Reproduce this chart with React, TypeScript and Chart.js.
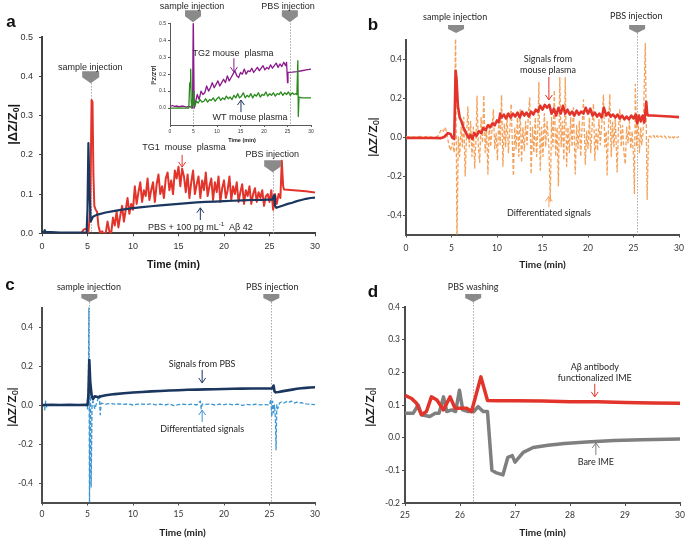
import React, { useEffect, useRef } from 'react';
import { Chart, registerables } from 'chart.js';

Chart.register(...registerables);

type Pt = [number, number];

// ---------------- data ----------------
// panel a
const aXTicks = [0, 5, 10, 15, 20, 25, 30];
const aYTicks = [0, 0.1, 0.2, 0.3, 0.4, 0.5];
const aNavy: Pt[] = [[0,0.003],[0.2,0.003],[0.3,0.008],[0.4,0.003],[1,0.003],[2,0.002],[3,0.002],[4,0.002],[4.6,0.002],[4.9,0],[5,0.06],[5.1,0.23],[5.2,0.12],[5.35,0.03],[5.6,0.042],[6,0.047],[7,0.053],[8,0.057],[9,0.061],[10,0.064],[11,0.067],[12,0.069],[13,0.071],[14,0.073],[15,0.075],[16,0.077],[17,0.079],[18,0.08],[19,0.081],[20,0.082],[21,0.083],[22,0.084],[23,0.085],[24,0.085],[25,0.086],[25.3,0.086],[25.5,0.097],[25.6,0.07],[25.75,0.065],[26,0.067],[26.5,0.071],[27,0.075],[27.5,0.078],[28,0.082],[28.5,0.085],[29,0.088],[29.5,0.09],[30,0.091]];
const aRed: Pt[] = [[4.3,0],[4.6,0.01],[4.9,0.012],[5.1,0.002],[5.3,0.06],[5.45,0.34],[5.55,0.335],[5.65,0.15],[5.75,0.07],[5.9,0.06],[6.05,0.055],[6.2,0.02],[6.4,0],[6.6,0.005],[6.8,0],
[7,0],[7.2,0.03],[7.4,0.005],[7.6,0],[7.8,0.04],[8,0.02],[8.2,0.055],[8.4,0.015],[8.6,0.045],[8.8,0.07],[9,0.03],[9.2,0.06],[9.4,0.09],[9.6,0.05],[9.8,0.075],[10,0.06],[10.2,0.12],[10.4,0.075],[10.6,0.105],[10.8,0.13],[11,0.08],[11.2,0.11],[11.4,0.095],[11.6,0.14],[11.8,0.085],[12,0.11],[12.2,0.13],[12.4,0.08],[12.6,0.125],[12.8,0.15],[13,0.1],[13.2,0.12],[13.4,0.09],[13.6,0.14],[13.8,0.155],[14,0.11],[14.2,0.135],[14.4,0.1],[14.6,0.16],[14.8,0.14],[15,0.17],[15.2,0.12],[15.4,0.165],[15.6,0.145],[15.8,0.105],[16,0.15],[16.2,0.09],[16.4,0.13],[16.6,0.16],[16.8,0.1],[17,0.125],[17.2,0.145],[17.4,0.09],[17.6,0.135],[17.8,0.11],[18,0.155],[18.2,0.095],[18.4,0.12],[18.6,0.14],[18.8,0.085],[19,0.13],[19.2,0.105],[19.4,0.145],[19.6,0.08],[19.8,0.115],[20,0.135],[20.2,0.09],[20.4,0.11],[20.6,0.145],[20.8,0.085],[21,0.12],[21.2,0.1],[21.4,0.13],[21.6,0.08],[21.8,0.105],[22,0.125],[22.2,0.075],[22.4,0.11],[22.6,0.095],[22.8,0.12],[23,0.075],[23.2,0.1],[23.4,0.115],[23.6,0.08],[23.8,0.105],[24,0.09],[24.2,0.11],[24.4,0.07],[24.6,0.095],[24.8,0.1],[25,0.08],[25.2,0.11],[25.4,0.06],[25.6,0.1],[25.8,0.075],[26,0.1],[26.2,0.09],[26.35,0.185],[26.5,0.12],[26.6,0.112],[27,0.111],[28,0.109],[29,0.107],[30,0.104]];

// inset of panel a
const insXTicks = [0, 5, 10, 15, 20, 25, 30];
const insYTicks = [0, 0.1, 0.2, 0.3, 0.4, 0.5];
const insPurple: Pt[] = [[0,0.01],[0.5,0.015],[1,0.01],[1.5,0.012],[2,0.008],[2.5,0.012],[3,0.01],[3.5,0.006],[4,0.01],[4.5,0.005],[4.8,0],[4.95,0.55],[5.05,0.55],[5.15,0],[5.4,0.03],[5.8,0.08],[6.2,0.05],[6.6,0.1],[7,0.08],[7.4,0.09],[7.8,0.13],[8.2,0.1],[8.6,0.12],[9,0.15],[9.4,0.12],[9.8,0.14],[10.2,0.16],[10.6,0.13],[11,0.15],[11.4,0.17],[11.8,0.15],[12.2,0.19],[12.6,0.16],[13,0.18],[13.4,0.2],[13.8,0.22],[14.2,0.19],[14.6,0.18],[15,0.21],[15.4,0.2],[15.8,0.23],[16.2,0.2],[16.6,0.22],[17,0.215],[17.4,0.235],[17.8,0.21],[18.2,0.225],[18.6,0.24],[19,0.22],[19.4,0.235],[19.8,0.25],[20.2,0.225],[20.6,0.24],[21,0.23],[21.4,0.255],[21.8,0.235],[22.2,0.25],[22.6,0.265],[23,0.24],[23.4,0.26],[23.8,0.245],[24.2,0.27],[24.6,0.25],[24.8,0.27],[25,0.15],[25.1,0.21],[26,0.212],[27,0.215],[28,0.22],[29,0.225],[30,0.23]];
const insGreen: Pt[] = [[0,0],[1,0],[2,0.001],[3,0],[4,0],[4.2,0.15],[4.3,0.12],[4.4,0.23],[4.5,0.05],[4.6,0],[4.8,0.02],[5,0.1],[5.1,0.03],[5.3,0.01],[5.6,0.04],[6,0.03],[6.4,0.05],[6.8,0.035],[7.2,0.04],[7.6,0.055],[8,0.035],[8.4,0.05],[8.8,0.045],[9.2,0.06],[9.6,0.04],[10,0.055],[10.4,0.065],[10.8,0.045],[11.2,0.06],[11.6,0.05],[12,0.07],[12.4,0.055],[12.8,0.065],[13.2,0.05],[13.6,0.075],[14,0.06],[14.4,0.085],[14.8,0.06],[15.2,0.07],[15.6,0.09],[16,0.06],[16.4,0.075],[16.8,0.065],[17.2,0.085],[17.6,0.06],[18,0.08],[18.4,0.07],[18.8,0.09],[19.2,0.065],[19.6,0.08],[20,0.075],[20.4,0.095],[20.8,0.07],[21.2,0.085],[21.6,0.075],[22,0.09],[22.4,0.07],[22.8,0.085],[23.2,0.08],[23.6,0.095],[24,0.075],[24.4,0.09],[24.8,0.08],[25.2,0.095],[25.6,0.075],[26,0.09],[26.4,0.08],[26.8,0.085],[27,0.08],[27.2,0.28],[27.3,-0.05],[27.45,0.065],[28,0.06],[29,0.06],[30,0.06]];

// panel b
const bXTicks = [0, 5, 10, 15, 20, 25, 30];
const bYTicks = [-0.4, -0.2, 0, 0.2, 0.4];
const bRed: Pt[] = [[0,-0.005],[1,-0.004],[2,-0.005],[3,-0.005],[3.8,-0.006],[4.2,0],[4.6,0.02],[4.9,0.015],[5.1,-0.005],[5.3,-0.01],[5.45,0.34],[5.55,0.3],[5.7,0.16],[5.9,0.1],[6.1,0.08],[6.3,0.05],[6.5,0.03],[6.7,0.01],[6.9,-0.005],[7.1,0.01],[7.3,-0.01],[7.5,0.02],[7.75,0.005],[8,0.03],[8.25,0.02],[8.5,0.045],[8.75,0.035],[9,0.06],[9.25,0.05],[9.5,0.07],[9.75,0.06],[10,0.085],[10.2,0.075],[10.35,0.12],[10.5,0.1],[10.75,0.115],[11,0.095],[11.25,0.12],[11.5,0.1],[11.75,0.12],[12,0.105],[12.25,0.125],[12.5,0.1],[12.75,0.13],[13,0.11],[13.25,0.125],[13.5,0.105],[13.75,0.13],[14,0.115],[14.25,0.14],[14.5,0.13],[14.75,0.16],[15,0.14],[15.25,0.165],[15.5,0.15],[15.75,0.165],[16,0.12],[16.25,0.145],[16.5,0.11],[16.75,0.15],[17,0.12],[17.25,0.16],[17.5,0.12],[17.75,0.14],[18,0.115],[18.25,0.13],[18.5,0.11],[18.75,0.135],[19,0.115],[19.25,0.13],[19.5,0.12],[19.75,0.15],[20,0.12],[20.25,0.145],[20.5,0.11],[20.75,0.125],[21,0.105],[21.25,0.12],[21.5,0.1],[21.75,0.15],[22,0.11],[22.25,0.125],[22.5,0.105],[22.75,0.115],[23,0.1],[23.25,0.115],[23.5,0.095],[23.75,0.11],[24,0.09],[24.25,0.105],[24.5,0.09],[24.75,0.11],[25,0.095],[25.25,0.115],[25.4,0.07],[25.6,0.11],[25.8,0.08],[26,0.11],[26.2,0.075],[26.4,0.18],[26.5,0.12],[26.6,0.11],[27,0.11],[28,0.108],[29,0.105],[30,0.102]];
const bDiff: Pt[] = [[0,0],[0.5,0.002],[1,-0.003],[1.5,0.003],[2,0],[2.5,0.005],[3,-0.003],[3.5,0.004],[3.9,0.04],[4.1,0.03],[4.3,0.05],[4.5,0.02],[4.7,-0.04],[4.9,-0.07],[5.1,-0.03],[5.3,-0.08],[5.45,0.55],[5.6,-0.55],[5.75,0],[5.9,-0.1],[6.05,0.05],[6.2,-0.05],[6.35,0.1],[6.5,-0.2],[6.65,0],[6.8,0.155],[6.95,-0.05],[7.1,0.08],[7.25,-0.1],[7.4,0.05],[7.55,-0.16],[7.7,0],[7.8,0.21],[7.95,-0.05],[8.1,-0.13],[8.25,0.1],[8.4,-0.03],[8.55,0.215],[8.7,-0.08],[8.85,0.05],[9,-0.19],[9.15,0.07],[9.3,-0.05],[9.45,0.03],[9.6,0.14],[9.75,-0.06],[9.9,0.02],[10.05,-0.12],[10.2,0.1],[10.35,-0.04],[10.5,0.215],[10.65,-0.15],[10.8,0.07],[10.95,-0.05],[11.1,0.12],[11.25,-0.08],[11.4,0.03],[11.55,0.17],[11.7,-0.05],[11.8,-0.2],[11.95,0.05],[12.1,-0.06],[12.25,0.1],[12.4,-0.1],[12.55,0.14],[12.7,-0.13],[12.85,0.05],[13,-0.07],[13.15,0.08],[13.3,-0.04],[13.45,0.12],[13.6,0.2],[13.75,-0.19],[13.9,0.05],[14.05,-0.08],[14.2,0.1],[14.35,-0.1],[14.5,0.06],[14.6,0.28],[14.75,-0.17],[14.9,0.05],[15.05,-0.1],[15.2,0.12],[15.35,-0.05],[15.5,0.08],[15.7,-0.05],[15.85,-0.33],[16,0.1],[16.15,-0.05],[16.3,0.24],[16.45,-0.1],[16.6,0.05],[16.75,-0.25],[16.9,0.305],[17.05,-0.05],[17.2,0.08],[17.35,-0.12],[17.5,0.305],[17.65,-0.15],[17.8,0.05],[17.95,-0.08],[18.1,0.1],[18.25,-0.05],[18.4,0.15],[18.6,-0.19],[18.75,0.06],[18.9,-0.06],[19.05,0.08],[19.2,-0.1],[19.35,0.05],[19.5,0.19],[19.7,-0.14],[19.85,0.03],[20,-0.06],[20.15,0.1],[20.3,-0.08],[20.45,0.05],[20.6,0.17],[20.75,-0.12],[20.9,0.04],[21.05,-0.07],[21.2,0.09],[21.35,-0.04],[21.5,0.06],[21.7,0.215],[21.85,-0.05],[22,0.03],[22.1,-0.195],[22.25,0.05],[22.4,0.22],[22.55,-0.1],[22.7,0.08],[22.85,-0.05],[23,0.1],[23.2,-0.18],[23.35,0.05],[23.5,0.14],[23.65,-0.05],[23.8,0.06],[23.95,-0.08],[24.1,-0.14],[24.25,0.05],[24.4,-0.03],[24.55,0.08],[24.7,-0.06],[24.85,0.03],[25,-0.1],[25.1,-0.29],[25.2,0.27],[25.35,-0.05],[25.5,0.1],[25.65,-0.08],[25.8,0.05],[25.9,-0.04],[26.05,0.02],[26.3,0.48],[26.5,-0.32],[26.65,0],[26.8,0.005],[27,-0.005],[27.2,0.008],[27.4,-0.006],[27.6,0.007],[27.8,-0.005],[28,0.006],[28.2,-0.004],[28.4,0.005],[28.6,-0.006],[28.8,0.004],[29,-0.004],[29.2,0.006],[29.4,-0.005],[29.6,0.005],[29.8,-0.003],[30,0.002]];

// panel c
const cXTicks = [0, 5, 10, 15, 20, 25, 30];
const cYTicks = [-0.4, -0.2, 0, 0.2, 0.4];
const cNavy: Pt[] = [[0,0],[0.3,0],[1,0.001],[2,0],[3,0.001],[4,0],[4.8,0.001],[5,0],[5.1,0.05],[5.2,0.23],[5.3,0.12],[5.45,0.05],[5.6,0.03],[5.8,0.045],[6.2,0.04],[6.5,0.045],[7,0.05],[8,0.056],[9,0.06],[10,0.064],[11,0.067],[12,0.07],[13,0.072],[14,0.074],[15,0.076],[16,0.078],[17,0.079],[18,0.08],[19,0.081],[20,0.082],[21,0.083],[22,0.084],[23,0.085],[24,0.085],[25,0.085],[25.3,0.085],[25.45,0.1],[25.55,0.07],[25.7,0.065],[26,0.067],[26.5,0.071],[27,0.075],[27.5,0.079],[28,0.083],[28.5,0.086],[29,0.088],[29.5,0.09],[30,0.091]];
const cDiff: Pt[] = [[0,0],[0.2,0],[0.3,-0.025],[0.4,0.02],[0.5,-0.01],[0.7,0],[1,0.002],[1.5,-0.002],[2,0.001],[2.5,-0.001],[3,0.002],[3.5,-0.001],[4,0.001],[4.5,0],[4.9,0],[5,-0.02],[5.1,0.1],[5.15,0.52],[5.22,-0.52],[5.3,0.2],[5.4,-0.42],[5.5,0],[5.6,0.02],[5.8,-0.02],[6,0.01],[6.3,0.05],[6.4,-0.05],[6.5,0.01],[7,0.005],[7.5,0.008],[8,0.004],[8.5,0.006],[9,0.003],[9.5,0.006],[10,0],[10.5,0.004],[11,0.005],[11.5,0.003],[12,0.006],[12.5,0.001],[13,0.004],[13.5,0],[14,0.005],[14.5,-0.003],[15,0.002],[15.5,0.004],[16,0.001],[16.5,0.005],[17,0],[17.4,0.02],[17.5,-0.02],[17.6,0.005],[18,0.003],[18.5,0.005],[19,0],[19.5,0.004],[20,0.002],[20.5,0.005],[21,0.001],[21.5,0.004],[22,-0.002],[22.5,0.003],[23,0],[23.5,0.004],[24,0.001],[24.5,0.002],[25,0],[25.15,0.03],[25.25,-0.06],[25.35,0.02],[25.45,-0.04],[25.55,0],[25.65,-0.07],[25.72,-0.23],[25.8,0],[25.9,-0.02],[26.1,0.01],[26.3,0.015],[26.6,0.01],[27,0.02],[27.2,0.015],[27.4,0.02],[27.7,0.01],[28,0.015],[28.3,0.01],[28.5,0.012],[28.8,0.008],[29,0.006],[29.5,0.004],[30,0.002]];

// panel d
const dXTicks = [25, 26, 27, 28, 29, 30];
const dYTicks = [-0.2, -0.1, 0, 0.1, 0.2, 0.3, 0.4];
const dRed: Pt[] = [[25,0.13],[25.12,0.12],[25.21,0.105],[25.3,0.07],[25.39,0.08],[25.48,0.125],[25.58,0.115],[25.7,0.085],[25.82,0.125],[25.91,0.09],[26,0.09],[26.12,0.09],[26.21,0.08],[26.38,0.186],[26.5,0.114],[26.7,0.113],[27,0.113],[27.5,0.112],[28,0.11],[28.5,0.11],[29,0.108],[29.5,0.106],[30,0.105]];
const dGray: Pt[] = [[25,0.075],[25.15,0.075],[25.24,0.1],[25.3,0.07],[25.45,0.065],[25.55,0.075],[25.62,0.075],[25.7,0.125],[25.76,0.08],[25.85,0.085],[25.92,0.08],[25.99,0.145],[26.05,0.085],[26.15,0.08],[26.25,0.08],[26.33,0.095],[26.42,0.08],[26.5,0.08],[26.58,-0.1],[26.65,-0.107],[26.78,-0.114],[26.87,-0.06],[26.95,-0.055],[27,-0.075],[27.15,-0.045],[27.33,-0.03],[27.6,-0.023],[27.9,-0.018],[28.3,-0.013],[28.8,-0.009],[29.3,-0.006],[30,-0.004]];

// ---------------- style ----------------
const RED = '#e2342b';
const NAVY = '#1b365f';
const PURPLE = '#8a1a8c';
const GREEN = '#2a8a1e';
const ORANGE = '#f4a25b';
const LBLUE = '#3b95d3';
const GRAY = '#7f7f7f';
const TXT = '#262626';
const ARIAL = '"Liberation Sans", Arial, sans-serif';
const CAL = 'Lato, "Open Sans", sans-serif';
const yTitleParts = [{ t: '|ΔZ/Z' }, { t: '0', sub: true }, { t: '|' }];

type Part = { t: string; sub?: boolean; sup?: boolean };

function drawParts(ctx: any, parts: Part[], cx: number, cy: number, size: number, family: string, weight: string, color: string) {
  const small = size * 0.68;
  const widths: number[] = [];
  let total = 0;
  parts.forEach((p) => {
    ctx.font = `${weight} ${p.sub || p.sup ? small : size}px ${family}`;
    const w = ctx.measureText(p.t).width;
    widths.push(w);
    total += w;
  });
  let x = cx - total / 2;
  ctx.fillStyle = color;
  ctx.textBaseline = 'middle';
  ctx.textAlign = 'left';
  parts.forEach((p, i) => {
    ctx.font = `${weight} ${p.sub || p.sup ? small : size}px ${family}`;
    const dy = p.sub ? size * 0.3 : p.sup ? -size * 0.35 : 0;
    ctx.fillText(p.t, x, cy + dy);
    x += widths[i];
  });
}

function makeDecor(d: any) {
  return {
    id: 'decor',
    beforeDatasetsDraw(chart: any) {
      const { ctx, chartArea, scales } = chart;
      ctx.save();
      (d.vlines || []).forEach((v: any) => {
        const px = Math.round(scales.x.getPixelForValue(v.x)) + 0.5;
        ctx.strokeStyle = '#a8a8a8';
        ctx.lineWidth = 1;
        ctx.setLineDash([1.5, 1.5]);
        ctx.beginPath();
        ctx.moveTo(px, scales.y.getPixelForValue(v.from));
        ctx.lineTo(px, chartArea.bottom);
        ctx.stroke();
      });
      ctx.restore();
    },
    afterDatasetsDraw(chart: any) {
      const { ctx, scales } = chart;
      const X = (v: number) => scales.x.getPixelForValue(v);
      const Y = (v: number) => scales.y.getPixelForValue(v);
      ctx.save();
      const b = d.block;
      (d.blocks || []).forEach((k: any) => {
        const px = X(k.x), py = Y(k.y);
        ctx.fillStyle = '#8a8a8a';
        ctx.beginPath();
        ctx.moveTo(px - b.w / 2, py - b.th - b.rh);
        ctx.lineTo(px + b.w / 2, py - b.th - b.rh);
        ctx.lineTo(px + b.w / 2, py - b.th);
        ctx.lineTo(px, py);
        ctx.lineTo(px - b.w / 2, py - b.th);
        ctx.closePath();
        ctx.fill();
      });
      (d.arrows || []).forEach((a: any) => {
        const px = X(a.x), y1 = Y(a.from), y2 = Y(a.to);
        const dir = y2 > y1 ? 1 : -1;
        ctx.strokeStyle = a.color;
        ctx.lineWidth = 1;
        ctx.setLineDash([]);
        ctx.beginPath();
        ctx.moveTo(px, y1);
        ctx.lineTo(px, y2);
        ctx.moveTo(px - 3.5, y2 - dir * 5);
        ctx.lineTo(px, y2);
        ctx.lineTo(px + 3.5, y2 - dir * 5);
        ctx.stroke();
      });
      (d.texts || []).forEach((t: any) => {
        drawParts(ctx, t.parts, X(t.x), Y(t.y), d.font.size, d.font.family, 'normal', TXT);
      });
      ctx.restore();
    },
    afterDraw(chart: any) {
      const { ctx, chartArea } = chart;
      ctx.save();
      const yt = d.yTitle;
      const cy = (chartArea.top + chartArea.bottom) / 2 + yt.dy;
      ctx.translate(chartArea.left + yt.dx, cy);
      ctx.rotate((yt.rot * Math.PI) / 2);
      drawParts(ctx, yTitleParts, 0, 0, yt.size, yt.family, 'bold', '#1a1a1a');
      ctx.restore();
      ctx.save();
      const xt = d.xTitle;
      drawParts(ctx, [{ t: 'Time (min)' }], (chartArea.left + chartArea.right) / 2 + xt.dx, chartArea.bottom + xt.dy, xt.size, xt.family, 'bold', '#1a1a1a');
      if (d.letter) {
        drawParts(ctx, [{ t: d.letter.t }], chartArea.left + d.letter.dx, chartArea.top + d.letter.dy, 17, ARIAL, 'bold', '#111');
      }
      ctx.restore();
    },
  };
}

function makeConfig(p: any) {
  const padding = {
    left: p.plot.l - p.canvas.x - p.yW,
    top: p.plot.t - p.canvas.y,
    right: p.canvas.x + p.canvas.w - p.plot.r,
    bottom: p.canvas.y + p.canvas.h - p.plot.b - p.xH,
  };
  const grid = { display: true, drawOnChartArea: false, drawTicks: true, tickLength: p.tl, color: p.axisColor, tickWidth: 1 };
  const border = { display: true, color: p.axisColor, width: p.axisW };
  const tfont = { family: p.tickFont.family, size: p.tickFont.size };
  return {
    type: 'line',
    data: {
      datasets: p.series.map((s: any) => ({
        data: s.pts.map((q: Pt) => ({ x: q[0], y: q[1] })),
        borderColor: s.color,
        borderWidth: s.width,
        borderDash: s.dash || [],
        borderJoinStyle: 'round',
        pointRadius: 0,
        tension: 0,
        fill: false,
      })),
    },
    options: {
      animation: false,
      responsive: false,
      devicePixelRatio: 1,
      events: [],
      layout: { padding },
      plugins: { legend: { display: false }, tooltip: { enabled: false } },
      scales: {
        x: {
          type: 'linear',
          min: p.x.min,
          max: p.x.max,
          afterBuildTicks: (ax: any) => { ax.ticks = p.x.ticks.map((v: number) => ({ value: v })); },
          afterFit: (s: any) => { s.height = p.xH; s.paddingLeft = 0; s.paddingRight = 0; },
          ticks: { font: tfont, color: p.tickFont.color, padding: p.x.pad, maxRotation: 0, autoSkip: false, callback: (v: number) => String(v) },
          grid,
          border,
        },
        y: {
          type: 'linear',
          min: p.y.min,
          max: p.y.max,
          afterBuildTicks: (ax: any) => { ax.ticks = p.y.ticks.map((v: number) => ({ value: v })); },
          afterFit: (s: any) => { s.width = p.yW; s.paddingTop = 0; s.paddingBottom = 0; },
          ticks: { font: tfont, color: p.tickFont.color, padding: p.y.pad, autoSkip: false, callback: (v: number) => v.toFixed(1) },
          grid,
          border,
        },
      },
    },
    plugins: [makeDecor(p.decor)],
  };
}

// ---------------- panels ----------------
const panelA = {
  canvas: { x: 0, y: 0, w: 342, h: 270 },
  plot: { l: 42, t: 37.3, r: 315, b: 233.3 },
  yW: 30, xH: 22, tl: 3, axisColor: '#404040', axisW: 2,
  tickFont: { family: ARIAL, size: 9, color: '#333' },
  x: { min: 0, max: 30, ticks: aXTicks, pad: 5.3 },
  y: { min: 0, max: 0.5, ticks: aYTicks, pad: 6 },
  series: [
    { pts: aNavy, color: NAVY, width: 2.2 },
    { pts: aRed, color: RED, width: 2 },
  ],
  decor: {
    font: { family: ARIAL, size: 9 },
    block: { w: 17, rh: 6, th: 6 },
    vlines: [{ x: 5.35, from: 0.383 }, { x: 25.35, from: 0.156 }],
    blocks: [{ x: 5.35, y: 0.383 }, { x: 25.35, y: 0.156 }],
    texts: [
      { x: 5.3, y: 0.424, parts: [{ t: 'sample injection' }] },
      { x: 15.6, y: 0.22, parts: [{ t: 'TG1  mouse  plasma' }] },
      { x: 25.3, y: 0.2, parts: [{ t: 'PBS injection' }] },
      { x: 17.4, y: 0.014, parts: [{ t: 'PBS + 100 pg mL' }, { t: '-1', sup: true }, { t: '  Aβ 42' }] },
    ],
    arrows: [
      { x: 15.4, from: 0.2, to: 0.169, color: RED },
      { x: 17.4, from: 0.034, to: 0.065, color: NAVY },
    ],
    yTitle: { dx: -29, dy: -11, size: 13, family: ARIAL, rot: -1 },
    xTitle: { dx: -5, dy: 32, size: 10.5, family: ARIAL },
    letter: { t: 'a', dx: -31, dy: -15 },
  },
};

const panelInset = {
  canvas: { x: 140, y: 0, w: 180, h: 150 },
  plot: { l: 170, t: 23.3, r: 311, b: 125 },
  yW: 18, xH: 12, tl: 2, axisColor: '#595959', axisW: 1,
  tickFont: { family: ARIAL, size: 5, color: '#333' },
  x: { min: 0, max: 30, ticks: insXTicks, pad: 2 },
  y: { min: -0.1, max: 0.5, ticks: insYTicks, pad: 2 },
  series: [
    { pts: insGreen, color: GREEN, width: 1.3 },
    { pts: insPurple, color: PURPLE, width: 1.3 },
  ],
  decor: {
    font: { family: ARIAL, size: 9 },
    block: { w: 16, rh: 6, th: 6 },
    vlines: [{ x: 4.9, from: 0.5 }, { x: 25.5, from: 0.5 }],
    blocks: [{ x: 4.9, y: 0.506 }, { x: 25.5, y: 0.506 }],
    texts: [
      { x: 4.7, y: 0.6, parts: [{ t: 'sample injection' }] },
      { x: 25.1, y: 0.6, parts: [{ t: 'PBS injection' }] },
      { x: 13.4, y: 0.324, parts: [{ t: 'TG2 mouse  plasma' }] },
      { x: 17, y: -0.053, parts: [{ t: 'WT mouse plasma' }] },
    ],
    arrows: [
      { x: 13.6, from: 0.294, to: 0.212, color: PURPLE },
      { x: 15.1, from: -0.024, to: 0.047, color: NAVY },
    ],
    yTitle: { dx: -16, dy: 1, size: 6, family: ARIAL, rot: 1 },
    xTitle: { dx: 1.5, dy: 15, size: 5.5, family: ARIAL },
  },
};

const panelB = {
  canvas: { x: 342, y: 0, w: 343, h: 270 },
  plot: { l: 406, t: 39.5, r: 679, b: 234.5 },
  yW: 30, xH: 22, tl: 3, axisColor: '#4d4d4d', axisW: 2,
  tickFont: { family: CAL, size: 8.5, color: '#333' },
  x: { min: 0, max: 30, ticks: bXTicks, pad: 5.4 },
  y: { min: -0.5, max: 0.5, ticks: bYTicks, pad: 1 },
  series: [
    { pts: bRed, color: RED, width: 2.6 },
    { pts: bDiff, color: ORANGE, width: 1.3, dash: [4, 2] },
  ],
  decor: {
    font: { family: CAL, size: 9 },
    block: { w: 16, rh: 4, th: 4 },
    vlines: [{ x: 25.4, from: 0.533 }],
    blocks: [{ x: 5.5, y: 0.533 }, { x: 25.4, y: 0.533 }],
    texts: [
      { x: 5.4, y: 0.615, parts: [{ t: 'sample injection' }] },
      { x: 25.3, y: 0.62, parts: [{ t: 'PBS injection' }] },
      { x: 15.6, y: 0.4, parts: [{ t: 'Signals from' }] },
      { x: 15.6, y: 0.344, parts: [{ t: 'mouse plasma' }] },
      { x: 15.7, y: -0.39, parts: [{ t: 'Differentiated signals' }] },
    ],
    arrows: [
      { x: 15.7, from: 0.308, to: 0.19, color: RED },
      { x: 15.7, from: -0.36, to: -0.305, color: ORANGE },
    ],
    yTitle: { dx: -33, dy: 0, size: 12, family: CAL, rot: -1 },
    xTitle: { dx: 0, dy: 30.5, size: 10, family: CAL },
    letter: { t: 'b', dx: -33, dy: -14.5 },
  },
};

const panelC = {
  canvas: { x: 0, y: 270, w: 342, h: 270 },
  plot: { l: 42, t: 307.5, r: 315, b: 502.5 },
  yW: 30, xH: 22, tl: 3, axisColor: '#4d4d4d', axisW: 2,
  tickFont: { family: CAL, size: 8.5, color: '#333' },
  x: { min: 0, max: 30, ticks: cXTicks, pad: 3.4 },
  y: { min: -0.5, max: 0.5, ticks: cYTicks, pad: 6 },
  series: [
    { pts: cNavy, color: NAVY, width: 2.6 },
    { pts: cDiff, color: LBLUE, width: 1.3, dash: [4, 2] },
  ],
  decor: {
    font: { family: CAL, size: 9 },
    block: { w: 16, rh: 4, th: 4 },
    vlines: [{ x: 5.2, from: 0.528 }, { x: 25.2, from: 0.528 }],
    blocks: [{ x: 5.2, y: 0.528 }, { x: 25.2, y: 0.528 }],
    texts: [
      { x: 5.16, y: 0.605, parts: [{ t: 'sample injection' }] },
      { x: 25.3, y: 0.605, parts: [{ t: 'PBS injection' }] },
      { x: 17.6, y: 0.21, parts: [{ t: 'Signals from PBS' }] },
      { x: 17.6, y: -0.123, parts: [{ t: 'Differentiated signals' }] },
    ],
    arrows: [
      { x: 17.6, from: 0.18, to: 0.113, color: NAVY },
      { x: 17.6, from: -0.087, to: -0.026, color: LBLUE },
    ],
    yTitle: { dx: -30, dy: 2, size: 12, family: CAL, rot: -1 },
    xTitle: { dx: 4, dy: 30.5, size: 10, family: CAL },
    letter: { t: 'c', dx: -32, dy: -22.5 },
  },
};

const panelD = {
  canvas: { x: 342, y: 270, w: 343, h: 270 },
  plot: { l: 405, t: 307, r: 680, b: 503 },
  yW: 30, xH: 22, tl: 3, axisColor: '#4d4d4d', axisW: 2,
  tickFont: { family: CAL, size: 8.5, color: '#333' },
  x: { min: 25, max: 30, ticks: dXTicks, pad: 3.9 },
  y: { min: -0.2, max: 0.4, ticks: dYTicks, pad: 2 },
  series: [
    { pts: dRed, color: RED, width: 3.5 },
    { pts: dGray, color: GRAY, width: 3.5 },
  ],
  decor: {
    font: { family: CAL, size: 9 },
    block: { w: 16, rh: 4, th: 4 },
    vlines: [{ x: 26.24, from: 0.415 }],
    blocks: [{ x: 26.24, y: 0.415 }],
    texts: [
      { x: 26.24, y: 0.461, parts: [{ t: 'PBS washing' }] },
      { x: 28.45, y: 0.217, parts: [{ t: 'Aβ antibody' }] },
      { x: 28.45, y: 0.183, parts: [{ t: 'functionalized IME' }] },
      { x: 28.47, y: -0.074, parts: [{ t: 'Bare IME' }] },
    ],
    arrows: [
      { x: 28.45, from: 0.165, to: 0.125, color: RED },
      { x: 28.47, from: -0.053, to: -0.016, color: GRAY },
    ],
    yTitle: { dx: -35, dy: 2, size: 12, family: CAL, rot: -1 },
    xTitle: { dx: 0, dy: 30, size: 10, family: CAL },
    letter: { t: 'd', dx: -32, dy: -15 },
  },
};

function ChartPanel({ spec }: { spec: any }) {
  const ref = useRef<HTMLCanvasElement>(null);
  useEffect(() => {
    const chart = new Chart(ref.current as HTMLCanvasElement, makeConfig(spec) as any);
    return () => chart.destroy();
  }, [spec]);
  const c = spec.canvas;
  return (
    <canvas
      ref={ref}
      width={c.w}
      height={c.h}
      style={{ position: 'absolute', left: c.x, top: c.y, width: c.w, height: c.h }}
    />
  );
}

export default function App() {
  return (
    <div style={{ position: 'absolute', left: 0, top: 0, width: 685, height: 540, background: '#fff', overflow: 'hidden' }}>
      <ChartPanel spec={panelA} />
      <ChartPanel spec={panelB} />
      <ChartPanel spec={panelC} />
      <ChartPanel spec={panelD} />
      <ChartPanel spec={panelInset} />
    </div>
  );
}
